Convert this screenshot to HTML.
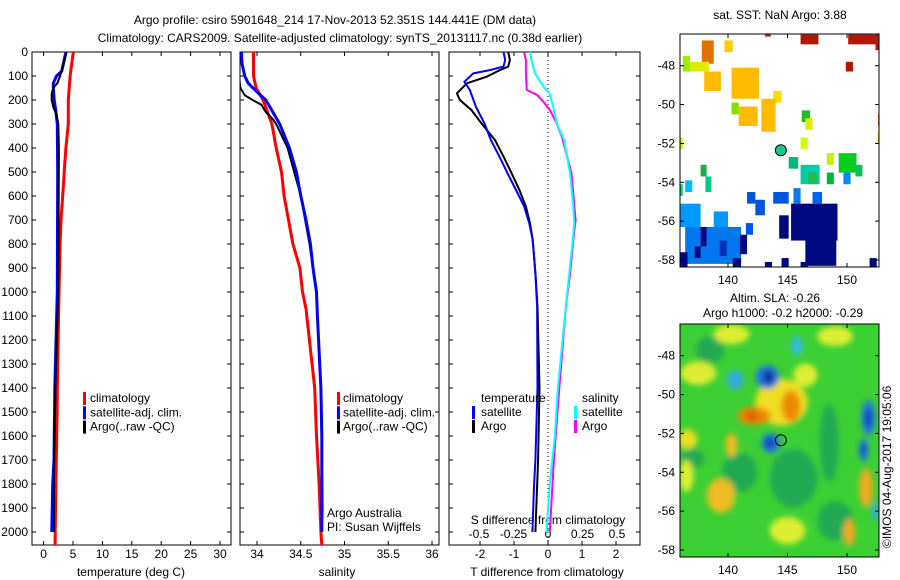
<!DOCTYPE html>
<html><head><meta charset="utf-8"><style>
html,body{margin:0;padding:0;background:#fff;}
svg{display:block;font-family:"Liberation Sans",sans-serif;}
text{font-size:12px;fill:#000;}
</style></head><body>
<svg id="fig" width="900" height="580" viewBox="0 0 900 580">
<defs>
<clipPath id="c1"><rect x="32" y="52" width="199" height="493"/></clipPath>
<clipPath id="c2"><rect x="240" y="52" width="199" height="493"/></clipPath>
<clipPath id="c3"><rect x="449" y="52" width="191" height="493"/></clipPath>
<clipPath id="cm1"><rect x="680" y="34" width="199" height="233"/></clipPath>
<clipPath id="cm2"><rect x="680" y="324" width="199" height="233"/></clipPath>
<filter id="blur" x="-50%" y="-50%" width="200%" height="200%"><feGaussianBlur stdDeviation="3"/></filter>
</defs>
<text x="335" y="24" text-anchor="middle">Argo profile: csiro 5901648_214 17-Nov-2013 52.351S 144.441E (DM data)</text>
<text x="340" y="42" text-anchor="middle">Climatology: CARS2009. Satellite-adjusted climatology: synTS_20131117.nc (0.38d earlier)</text>
<g id="layer"></g>
<text x="780" y="19" text-anchor="middle">sat. SST: NaN Argo: 3.88</text>
<text x="775" y="302" text-anchor="middle">Altim. SLA: -0.26</text>
<text x="783" y="317" text-anchor="middle">Argo h1000: -0.2 h2000: -0.29</text>
<text x="0" y="0" transform="translate(891,548) rotate(-90)">©IMOS 04-Aug-2017 19:05:06</text>
</svg>
<script>
// ---------- profile data ----------
const tempClimDepth=[0,100,200,300,400,500,600,700,800,1000,1400,1500,1800,2000,2054];
const tempClim=[5.05,4.5,4.2,4.2,3.8,3.5,3.25,2.96,2.8,2.62,2.33,2.3,2.1,1.97,1.95];
const tempSatDepth=[0,50,80,100,130,150,200,250,300,500,1000,1400,1700,1800,2000];
const tempSat=[3.8,3.35,3.07,2.2,1.65,1.65,1.8,2.1,2.33,2.4,2.33,1.9,1.77,1.55,1.4];
const tempArgoDepth=[0,50,100,130,150,175,200,230,260,300,400,1000,1400,1700,1900,2000];
const tempArgo=[3.9,3.4,2.8,2.33,1.65,1.37,1.37,1.65,2.2,2.5,2.6,2.5,2.0,1.77,1.77,1.77];
const salClimDepth=[0,100,150,200,250,300,400,500,600,700,800,900,1000,1070,1400,1600,1800,2000,2054];
const salClim=[33.96,33.96,33.99,34.07,34.12,34.17,34.22,34.28,34.31,34.36,34.41,34.49,34.52,34.56,34.66,34.68,34.71,34.73,34.74];
const salSatDepth=[0,50,100,130,170,200,250,300,400,500,600,700,800,900,1000,1100,1400,1600,2000];
const salSat=[33.82,33.83,33.86,33.9,34.01,34.1,34.18,34.26,34.37,34.45,34.5,34.56,34.61,34.64,34.68,34.69,34.73,34.74,34.74];
const salArgoDepth=[0,90,150,180,200,220,250,280,300,400,600,800,1000,1400,1900,2000];
const salArgo=[33.78,33.79,33.81,33.86,33.95,34.05,34.1,34.18,34.22,34.35,34.5,34.6,34.68,34.73,34.75,34.74];
const dTSatDepth=[0,33,61,75,89,124,158,228,297,367,436,505,575,644,714,783,922,1060,1400,1700,1800,2000];
const dTSat=[-1.31,-1.26,-1.31,-1.7,-2.2,-2.46,-2.3,-2.12,-1.87,-1.68,-1.43,-1.19,-0.94,-0.7,-0.55,-0.45,-0.37,-0.32,-0.31,-0.37,-0.41,-0.46];
const dTArgoDepth=[0,33,61,75,103,130,172,200,242,297,367,436,505,575,644,714,783,922,1060,1400,1700,2000];
const dTArgo=[-1.17,-1.12,-1.17,-1.41,-1.8,-2.38,-2.68,-2.59,-2.25,-1.96,-1.56,-1.31,-1.07,-0.84,-0.65,-0.53,-0.45,-0.37,-0.31,-0.25,-0.29,-0.37];
const dSSatDepth=[0,33,89,144,172,228,297,367,505,644,714,783,922,1060,1400,1600,1800,2000];
const dSSat=[-0.13,-0.12,-0.094,-0.034,0.01,0.038,0.063,0.116,0.16,0.183,0.19,0.18,0.154,0.13,0.072,0.05,0.013,-0.011];
const dSArgoDepth=[0,33,89,158,179,207,242,297,352,505,700,783,922,1060,1400,1700,2000];
const dSArgo=[-0.174,-0.16,-0.16,-0.154,-0.08,-0.034,0.014,0.063,0.1,0.17,0.2,0.183,0.16,0.13,0.082,0.043,0.013];
// ticks
const depthTicks=[0,100,200,300,400,500,600,700,800,900,1000,1100,1200,1300,1400,1500,1600,1700,1800,1900,2000];
const tempTicks=[0,5,10,15,20,25,30];
const salTicks=[34,34.5,35,35.5,36];
const dTTicks=[-2,-1,0,1,2];
const dSTicks=[-0.5,-0.25,0,0.25,0.5];
const dSTickLabels=["-0.5","-0.25","0","0.25","0.5"];
const lonTicks=[140,145,150];
const latTicks=[-48,-50,-52,-54,-56,-58];
const argoLon=144.441, argoLat=-52.351;
// SST map patches: lon0, lon1, lat0, lat1, colour
const sstPatches=[
[146.1,147.6,-46.4,-46.9,"#b01800"],[150.1,152.6,-46.4,-46.9,"#b01800"],[143.1,143.6,-46.4,-46.5,"#b01800"],[152.4,152.8,-46.4,-47.2,"#b01800"],
[149.9,150.5,-47.8,-48.3,"#b01800"],[137.8,138.8,-46.7,-47.9,"#e07000"],[139.7,140.4,-46.7,-47.3,"#ffcc00"],
[136.2,136.8,-47.5,-48.3,"#99ee00"],[136.8,138.4,-47.8,-48.3,"#ddee00"],[138.0,139.4,-48.3,-49.3,"#ffbb00"],
[140.3,142.6,-48.1,-49.7,"#ffbb00"],[143.8,144.5,-49.3,-49.9,"#ffdd00"],[140.3,140.9,-49.9,-50.5,"#88dd00"],
[140.9,142.5,-50.1,-51.1,"#ffbb00"],[142.8,144.0,-49.7,-51.4,"#ffbb00"],[146.2,146.9,-50.3,-50.9,"#22bb22"],
[146.5,147.1,-50.7,-51.3,"#ddee00"],[136.0,136.2,-51.7,-52.3,"#ccee00"],[146.1,146.7,-51.7,-52.3,"#ccff00"],
[152.6,152.8,-50.5,-51.1,"#e07000"],[152.6,152.8,-51.4,-52.0,"#ffbb00"],[145.1,145.9,-52.7,-53.3,"#00bb77"],
[146.1,147.7,-53.1,-54.1,"#00ccaa"],[146.7,147.5,-53.5,-54.1,"#22bb55"],[148.3,148.9,-52.5,-53.1,"#ccee00"],
[149.3,150.8,-52.5,-53.5,"#00cc22"],[150.7,151.3,-53.1,-53.7,"#11bb55"],[148.3,148.9,-53.5,-54.1,"#00bb33"],
[149.7,150.3,-53.5,-54.1,"#0088ff"],[137.7,138.2,-53.1,-53.7,"#22aa44"],[138.1,138.6,-53.7,-54.5,"#00cc88"],
[136.4,137.0,-53.9,-54.5,"#00bbff"],[136.0,136.2,-54.1,-54.7,"#00cc88"],[141.6,142.3,-54.5,-55.1,"#0055dd"],
[142.3,143.1,-54.9,-55.7,"#0055dd"],[143.8,145.1,-54.5,-55.1,"#0055dd"],[145.5,146.1,-54.3,-55.1,"#1177ee"],
[147.1,147.9,-54.5,-55.1,"#0066ee"],[136.0,137.7,-55.1,-56.3,"#0099ff"],[138.8,140.0,-55.5,-56.6,"#0099ff"],
[141.5,142.1,-56.1,-56.7,"#0055dd"],[136.4,141.1,-56.3,-58.2,"#0077ee"],[144.3,145.1,-55.7,-56.9,"#000a80"],
[145.3,149.2,-55.1,-57.0,"#000a80"],[146.5,149.1,-56.6,-58.3,"#000a80"],[137.7,138.2,-56.3,-57.3,"#000a80"],
[137.2,137.7,-57.3,-57.9,"#000a80"],[140.4,141.1,-57.9,-58.4,"#000a80"],[141.0,141.6,-56.7,-57.7,"#000a80"],
[144.5,145.1,-57.9,-58.4,"#000a80"],[143.1,143.7,-58.1,-58.4,"#000a80"],[151.9,152.5,-57.9,-58.4,"#000a80"],
[146.1,146.7,-58.1,-58.4,"#000a80"],[136.0,136.6,-57.6,-58.4,"#000a80"],[139.3,139.9,-57.0,-57.8,"#0033bb"]];
const sstArgoColor="#11cc88";
// SLA map blobs: lon, lat, rx(deg), ry(deg), colour
const slaBlobs=[
[138.5,-47.7,1.2,0.7,"#22aa55"],[148.5,-52.5,0.8,2.0,"#22aa55"],[141,-54,1.5,1,"#22aa55"],[145.5,-54.3,2,1.5,"#22aa55"],
[137,-53.3,1,0.5,"#22aa55"],[149,-56.5,1.5,1,"#22aa55"],
[140.3,-46.9,1.5,0.5,"#ddee33"],[146.5,-49,1,0.6,"#ddee33"],[149,-47,1.5,0.5,"#ddee33"],[145,-57,1.5,0.7,"#ddee33"],
[137.5,-48.9,1.5,0.6,"#ddee33"],[144.5,-50.4,2.2,1.2,"#eedd22"],[136.6,-52.3,0.8,0.5,"#eedd22"],[140.3,-52.6,0.5,0.6,"#eebb22"],
[139.4,-55.2,1.2,0.9,"#eebb22"],[136.5,-54.2,0.6,0.8,"#ddee33"],[151.6,-54.8,0.6,1.0,"#eeaa22"],[150.2,-57.1,0.5,0.7,"#eeaa22"],
[142.2,-51.1,1.4,0.45,"#ee8800"],[145.3,-50.6,0.8,0.8,"#ee8800"],[142.0,-51.1,0.6,0.3,"#dd6600"],
[143.3,-49.1,1.0,0.6,"#2277dd"],[143.4,-49.1,0.4,0.35,"#0a2a99"],[140.6,-49.25,0.7,0.5,"#33aadd"],[145.8,-47.5,0.5,0.5,"#33bbdd"],
[143.6,-52.5,0.8,0.5,"#2277dd"],[143.5,-52.5,0.35,0.3,"#1144bb"],[151.8,-51.2,0.6,0.9,"#2277dd"],[151.8,-51.2,0.3,0.5,"#1144bb"],
[151.4,-52.85,0.4,0.6,"#2277dd"],[151.4,-52.85,0.2,0.3,"#1144bb"],[152.4,-56,0.3,0.5,"#33aadd"]];

const NS="http://www.w3.org/2000/svg";
const layer=document.getElementById('layer');
function mk(tag,attrs,parent){const e=document.createElementNS(NS,tag);for(const k in attrs)e.setAttribute(k,attrs[k]);(parent||layer).appendChild(e);return e;}
const yD=d=>52+d*0.24;
const xT=t=>43.6+t*5.88;
const xS=s=>257+(s-34)*87.5;
const xDT=t=>548+t*34;
const xDS=s=>548+s*138;
const xLon=l=>728+(l-140)*11.9;
const yLat1=l=>65.7+(-48-l)*19.43;
const yLat2=l=>355.7+(-48-l)*19.43;

function panel(x0,x1,name){
  const r=mk('rect',{x:x0,y:52,width:x1-x0,height:493,fill:'none',stroke:'#000','stroke-width':1});
  
  
  depthTicks.forEach(d=>{mk('line',{x1:x0,x2:x0+4,y1:yD(d),y2:yD(d),stroke:'#000'});mk('line',{x1:x1,x2:x1-4,y1:yD(d),y2:yD(d),stroke:'#000'});});
}
function xticks(vals,fx,x0,x1,labels,y){
  vals.forEach((v,i)=>{const x=fx(v);if(x<x0||x>x1)return;
    mk('line',{x1:x,x2:x,y1:545,y2:541,stroke:'#000'});mk('line',{x1:x,x2:x,y1:52,y2:56,stroke:'#000'});
    const t=mk('text',{x:x,y:y,'text-anchor':'middle'});t.textContent=labels?labels[i]:String(v);
    
    
  });
}
function series(depths,vals,fx,color,w,clip,name){
  const pts=depths.map((d,i)=>fx(vals[i]).toFixed(1)+','+yD(d).toFixed(1)).join(' ');
  const p=mk('polyline',{points:pts,fill:'none',stroke:color,'stroke-width':w,'clip-path':'url(#'+clip+')','stroke-linejoin':'miter'});
  
  
}
function label(x,y,str,name,anchor){const t=mk('text',{x:x,y:y,'text-anchor':anchor||'start'});t.textContent=str;
  
  return t;}
function marker(x,y,color){mk('rect',{x:x,y:y-10,width:3,height:13,fill:color});}

panel(32,231,'temperature-panel');panel(240,439,'salinity-panel');panel(449,640,'difference-panel');
depthTicks.forEach(d=>{label(28,yD(d)+4,String(d),'depth-tick-label','end');});
xticks(tempTicks,xT,32,231,null,558);
xticks(salTicks,xS,240,439,null,558);
xticks(dTTicks,xDT,449,640,null,558);
dSTicks.forEach((v,i)=>{label(xDS(v),538,dSTickLabels[i],'s-diff-tick-label','middle');});
mk('line',{x1:548,x2:548,y1:52,y2:545,stroke:'#000','stroke-dasharray':'1,3'});
label(131,576,'temperature (deg C)','temperature-axis-title','middle');
label(337,576,'salinity','salinity-axis-title','middle');
label(547,576,'T difference from climatology','t-diff-axis-title','middle');
label(548,524,'S difference from climatology','s-diff-axis-title','middle');

series(tempClimDepth,tempClim,xT,'#ff0000',3,'c1','temp-climatology-line');
series(tempSatDepth,tempSat,xT,'#0000ff',3,'c1','temp-satellite-line');
series(tempArgoDepth,tempArgo,xT,'#000000',2,'c1','temp-argo-line');
series(salClimDepth,salClim,xS,'#ff0000',3,'c2','sal-climatology-line');
series(salArgoDepth,salArgo,xS,'#000000',2,'c2','sal-argo-line');
series(salSatDepth,salSat,xS,'#0000ff',3,'c2','sal-satellite-line');
series(dTArgoDepth,dTArgo,xDT,'#000000',2,'c3','tdiff-argo-line');
series(dTSatDepth,dTSat,xDT,'#0000ff',2,'c3','tdiff-satellite-line');
series(dSArgoDepth,dSArgo,xDS,'#ff00ff',2,'c3','sdiff-argo-line');
series(dSSatDepth,dSSat,xDS,'#00ffff',2,'c3','sdiff-satellite-line');

// legends
[['climatology','#ff0000'],['satellite-adj. clim.','#0000ff'],['Argo(..raw -QC)','#000']].forEach((e,i)=>{
  const y=402+i*14.3;marker(83,y,e[1]);label(90,y,e[0],'temp-legend-entry');marker(337,y,e[1]);label(343,y,e[0],'sal-legend-entry');});
label(481,402,'temperature','diff-legend-temperature');label(582,402,'salinity','diff-legend-salinity');
marker(472,416,'#0000ff');label(481,416,'satellite','diff-legend-t-satellite');
marker(472,430,'#000');label(481,430,'Argo','diff-legend-t-argo');
marker(574,416,'#00ffff');label(582,416,'satellite','diff-legend-s-satellite');
marker(574,430,'#ff00ff');label(582,430,'Argo','diff-legend-s-argo');
label(327,517,'Argo Australia','argo-australia-note');label(327,531,'PI: Susan Wijffels','pi-note');

// maps
function mapFrame(top,yLat,name){
  const r=mk('rect',{x:680,y:top,width:199,height:233,fill:'none',stroke:'#000'});
  
  
  latTicks.forEach(l=>{const y=yLat(l);mk('line',{x1:680,x2:684,y1:y,y2:y,stroke:'#000'});mk('line',{x1:879,x2:875,y1:y,y2:y,stroke:'#000'});
    label(675,y+4,String(l),'lat-tick-label','end');});
  lonTicks.forEach(l=>{const x=xLon(l);mk('line',{x1:x,x2:x,y1:top,y2:top+4,stroke:'#000'});mk('line',{x1:x,x2:x,y1:top+233,y2:top+229,stroke:'#000'});
    label(x,top+250,String(l),'lon-tick-label','middle');});
}
const g1=mk('g',{'clip-path':'url(#cm1)'});


sstPatches.forEach(p=>{const x0=xLon(p[0]),x1=xLon(p[1]),y0=yLat1(p[2]),y1=yLat1(p[3]);
  const r=mk('rect',{x:x0,y:Math.min(y0,y1),width:x1-x0,height:Math.abs(y1-y0),fill:p[4]},g1);
  
  });
mapFrame(34,yLat1,'sst-map-frame');
const a1=mk('circle',{cx:xLon(argoLon),cy:yLat1(argoLat),r:5.5,fill:sstArgoColor,stroke:'#000','stroke-width':1});



const g2=mk('g',{'clip-path':'url(#cm2)'});


mk('rect',{x:680,y:324,width:199,height:233,fill:'#3ccf33'},g2);
const gb=mk('g',{filter:'url(#blur)'},g2);
slaBlobs.forEach(b=>{const e=mk('ellipse',{cx:xLon(b[0]),cy:yLat2(b[1]),rx:b[2]*11.9,ry:b[3]*19.43,fill:b[4]},gb);
  
  });
mapFrame(324,yLat2,'sla-map-frame');
const a2=mk('circle',{cx:xLon(argoLon),cy:yLat2(argoLat),r:5.5,fill:'none',stroke:'#000','stroke-width':1});


</script>
</body></html>
